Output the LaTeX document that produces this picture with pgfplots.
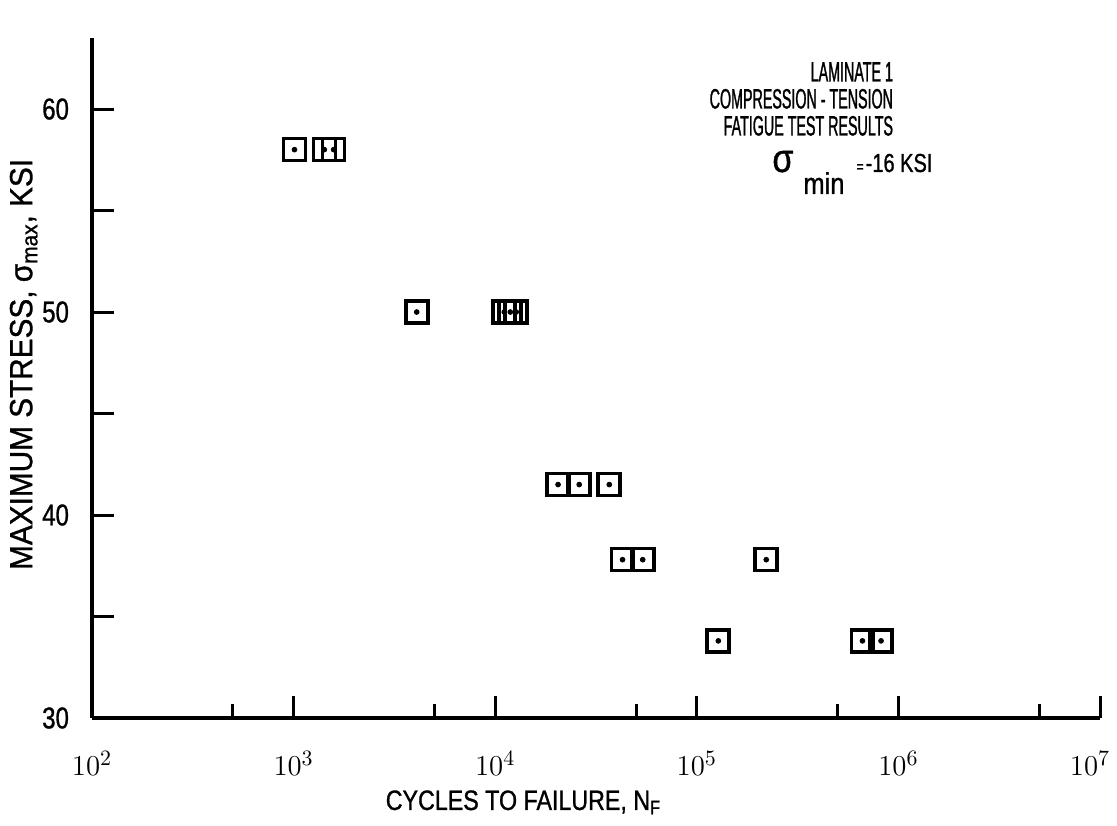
\documentclass[border=0pt]{standalone}
\usepackage{fontspec}
\setmainfont{Liberation Sans}
\newfontfamily\condfont[FakeStretch=0.51,FakeBold=1]{Liberation Sans}
\newfontfamily\xlabfont[FakeStretch=0.83,FakeBold=1]{Liberation Sans}
\newfontfamily\ylabfont[FakeStretch=0.93,FakeBold=1]{Liberation Sans}
\newfontfamily\tickfont[FakeStretch=0.8,FakeBold=1]{Liberation Sans}
\newfontfamily\sigfont[FakeStretch=0.85,FakeBold=1]{Liberation Sans}
\newfontfamily\numfont[FakeStretch=0.77,FakeBold=1]{Liberation Sans}
\usepackage{pgfplots}
\pgfplotsset{compat=1.18}
\pgfplotstableread{
x y
1010 58.0
1420 58.0
1580 58.0
4080 50.0
11090 50.0
11880 50.0
12710 50.0
20500 41.5
26100 41.5
36800 41.5
42800 37.8
53900 37.8
221000 37.8
127800 33.8
663000 33.8
820000 33.8
}\fatigue
\begin{document}
\begin{tikzpicture}
\begin{axis}[
  scale only axis, width=504pt, height=340pt,
  xmode=log, xmin=100, xmax=1e7, ymin=30, ymax=63.5,
  axis lines*=left,
  axis line style={line width=2pt},
  tick align=inside,
  tick style={line width=1.5pt, black},
  major tick length=11pt, minor tick length=7pt,
  xtick={1e2,1e3,1e4,1e5,1e6},
  xticklabels={$10^{2}$,$10^{3}$,$10^{4}$,$10^{5}$,$10^{6}$},
  extra x ticks={1e7},
  extra x tick labels={$10^{7}$},
  extra x tick style={xticklabel style={xshift=-5pt}},
  minor xtick={500,5000,50000,500000,5000000},
  xticklabel style={font=\fontsize{15}{15}\selectfont, yshift=-13pt},
  ytick={30,35,40,45,50,55,60},
  yticklabels={30,,40,,50,,60},
  yticklabel style={font=\tickfont\fontsize{15}{15}\selectfont, xshift=-8pt},
  xlabel={CYCLES TO FAILURE, N\textsubscript{F}},
  xlabel style={font=\xlabfont\fontsize{14}{14}\selectfont, at={(axis description cs:0.428,0)}, anchor=north, inner sep=0pt, yshift=-36pt},
  ylabel={MAXIMUM STRESS, σ\textsubscript{max}, KSI},
  ylabel style={font=\ylabfont\fontsize{16}{16}\selectfont, at={(axis description cs:0,0.52)}, anchor=south, inner sep=0pt, yshift=27pt},
  clip=false,
]
\addplot[only marks, mark=square, mark size=5.5pt, mark options={line width=1.8pt, black}] table[x=x,y=y] {\fatigue};
\addplot[only marks, mark=*, mark size=1.2pt, mark options={black}] table[x=x,y=y] {\fatigue};
\node[anchor=north east, inner sep=0pt, align=right, font=\condfont\fontsize{14}{13.5}\selectfont] at (rel axis cs:0.795,0.965)
  {LAMINATE 1\\COMPRESSION - TENSION\\FATIGUE TEST RESULTS};
\node[anchor=base west, inner sep=0pt, font=\numfont\fontsize{13}{13}\selectfont] at (rel axis cs:0.6746,0.803)
  {{\sigfont\fontsize{20}{20}\selectfont σ}\hspace{5pt}\raisebox{-11pt}{\sigfont\fontsize{15}{15}\selectfont min}\hspace{6pt}{\fontsize{8}{8}\selectfont =}\hspace{1pt}-16 KSI};
\path (rel axis cs:0,0) coordinate (sw) (rel axis cs:1,1) coordinate (ne);
\end{axis}
\pgfresetboundingbox
\path ([shift={(-46pt,-53.5pt)}]sw) rectangle ([shift={(8.5pt,19pt)}]ne);
\end{tikzpicture}
\end{document}
